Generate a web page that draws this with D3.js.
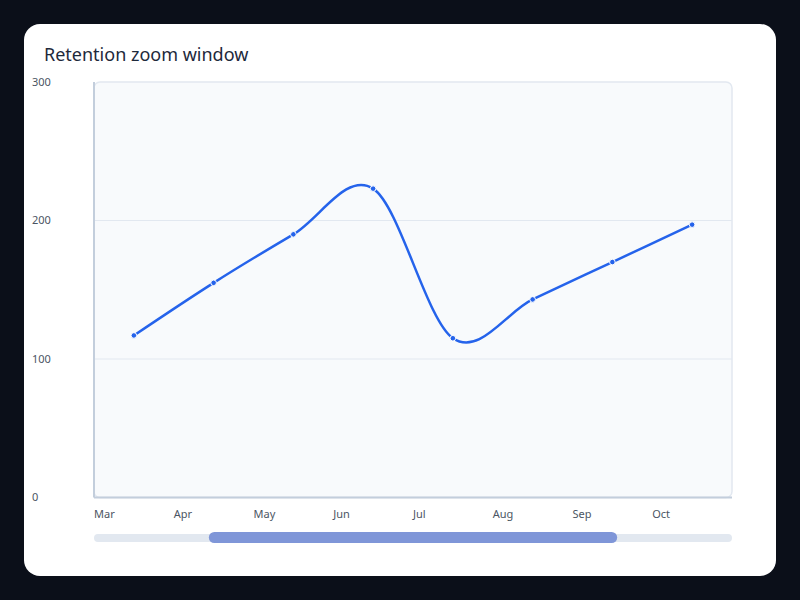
<!DOCTYPE html>
<html>
<head>
<meta charset="utf-8">
<script src="https://cdn.jsdelivr.net/npm/d3@7"></script>
<style>
  html, body { margin: 0; padding: 0; background: #0b0f19; }
  svg { display: block; }
  text { font-family: "Noto Sans", "Open Sans", sans-serif; }
</style>
</head>
<body>
<script>
// Data
const months = ['Mar', 'Apr', 'May', 'Jun', 'Jul', 'Aug', 'Sep', 'Oct'];
const retention = [117, 155, 190, 223, 115, 143, 170, 197];
const yTicks = [0, 100, 200, 300];
// zoom window shown by the slider (fractions of the full range)
const zoomWindow = [0.18, 0.82];

const width = 800;
const height = 600;
const plot = { left: 94, top: 82, right: 732, bottom: 497.5 };

const svg = d3.select('body')
  .append('svg')
  .attr('width', width)
  .attr('height', height);

// Card
svg.append('rect')
  .attr('x', 24).attr('y', 24)
  .attr('width', 752).attr('height', 552)
  .attr('rx', 16)
  .attr('fill', '#ffffff');

// Title
svg.append('text')
  .attr('x', 44).attr('y', 61)
  .attr('font-size', 18)
  .attr('fill', '#1e293b')
  .text('Retention zoom window');

// Scales
const x = d3.scaleBand()
  .domain(months)
  .range([plot.left, plot.right]);

const y = d3.scaleLinear()
  .domain([0, 300])
  .range([plot.bottom, plot.top]);

// Plot background
svg.append('rect')
  .attr('x', plot.left).attr('y', plot.top)
  .attr('width', plot.right - plot.left)
  .attr('height', plot.bottom - plot.top)
  .attr('rx', 6)
  .attr('fill', '#f8fafc')
  .attr('stroke', '#e2e8f0')
  .attr('stroke-width', 1.5);

// Gridlines
svg.append('g')
  .selectAll('line')
  .data(yTicks.filter(d => d > 0 && d < 300))
  .enter()
  .append('line')
  .attr('x1', plot.left).attr('x2', plot.right)
  .attr('y1', d => y(d)).attr('y2', d => y(d))
  .attr('stroke', '#e2e8f0')
  .attr('stroke-width', 1);

// Axis lines
svg.append('line')
  .attr('x1', plot.left).attr('x2', plot.left)
  .attr('y1', plot.top).attr('y2', plot.bottom)
  .attr('stroke', '#c3cedc')
  .attr('stroke-width', 2);

svg.append('line')
  .attr('x1', plot.left).attr('x2', plot.right)
  .attr('y1', plot.bottom).attr('y2', plot.bottom)
  .attr('stroke', '#c3cedc')
  .attr('stroke-width', 2);

// Y tick labels
svg.append('g')
  .selectAll('text')
  .data(yTicks)
  .enter()
  .append('text')
  .attr('x', 32)
  .attr('y', d => y(d))
  .attr('dy', '0.35em')
  .attr('font-size', 11)
  .attr('fill', '#4b5563')
  .text(d => d);

// X tick labels (left aligned at band start)
svg.append('g')
  .selectAll('text')
  .data(months)
  .enter()
  .append('text')
  .attr('x', d => x(d))
  .attr('y', 518)
  .attr('font-size', 11)
  .attr('fill', '#4b5563')
  .text(d => d);

// Line
const line = d3.line()
  .x((d, i) => x(months[i]) + x.bandwidth() / 2)
  .y(d => y(d))
  .curve(d3.curveCardinal.tension(0));

svg.append('path')
  .datum(retention)
  .attr('fill', 'none')
  .attr('stroke', '#2563eb')
  .attr('stroke-width', 2.5)
  .attr('d', line);

// Points
svg.append('g')
  .selectAll('circle')
  .data(retention)
  .enter()
  .append('circle')
  .attr('cx', (d, i) => x(months[i]) + x.bandwidth() / 2)
  .attr('cy', d => y(d))
  .attr('r', 2.8)
  .attr('fill', '#2563eb')
  .attr('stroke', '#ffffff')
  .attr('stroke-width', 1);

// Zoom slider
const slider = d3.scaleLinear()
  .domain([0, 1])
  .range([plot.left, plot.right]);

svg.append('rect')
  .attr('x', slider(0)).attr('y', 534)
  .attr('width', slider(1) - slider(0))
  .attr('height', 8)
  .attr('rx', 4)
  .attr('fill', '#e2e8f0');

svg.append('rect')
  .attr('x', slider(zoomWindow[0])).attr('y', 532)
  .attr('width', slider(zoomWindow[1]) - slider(zoomWindow[0]))
  .attr('height', 11)
  .attr('rx', 5.5)
  .attr('fill', '#7f96d8');
</script>
</body>
</html>
